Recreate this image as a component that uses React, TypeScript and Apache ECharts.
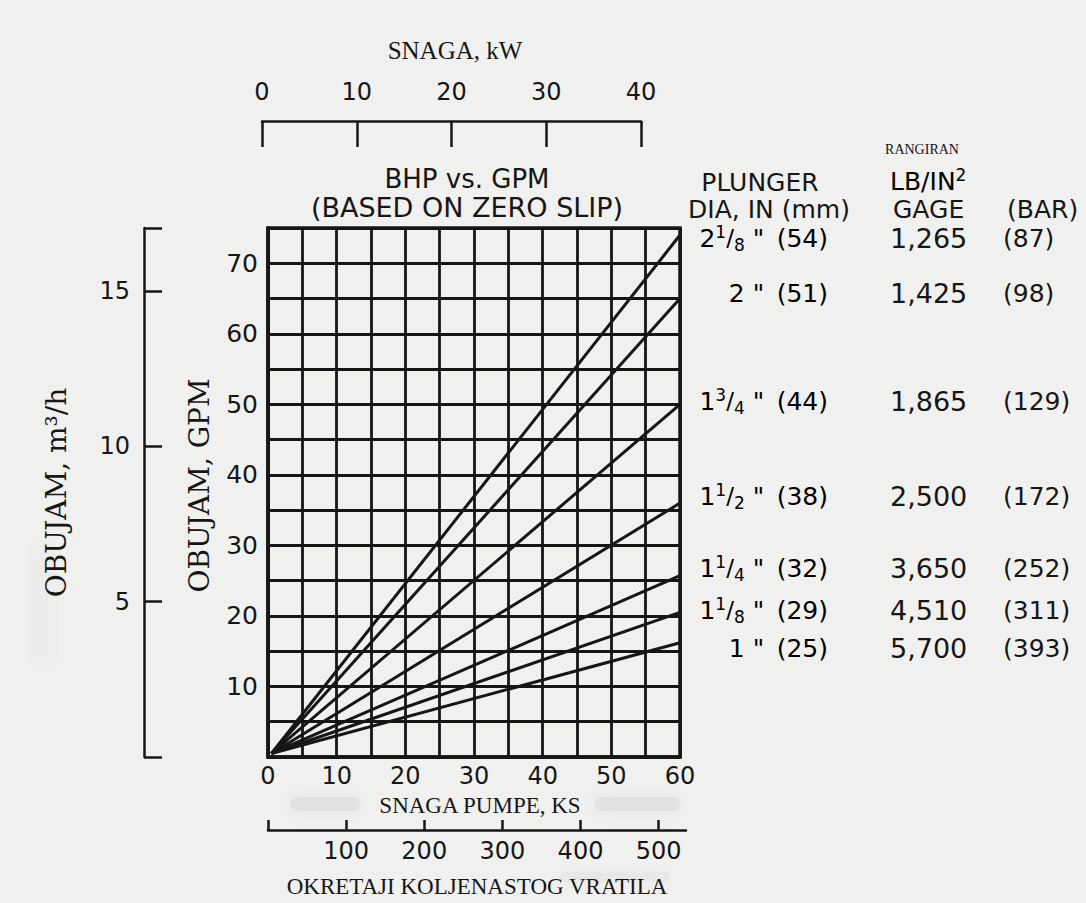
import React, { useEffect, useRef } from 'react';
import * as echarts from 'echarts';

// ---- data ----
const hpMin = 0;
const hpMax = 60;
const gpmMax = 75;
const kwTicks = [0, 10, 20, 30, 40];
const rpmTicks = [0, 100, 200, 300, 400, 500];
const rpmLabels = [100, 200, 300, 400, 500];
const rpmMax = 535;
const m3hTickValues = [0, 5, 10, 15];
const m3hLabels = [5, 10, 15];
const gpmToM3h = 0.2271;

const plungerWhole = ['2', '2', '1', '1', '1', '1', '1'];
const plungerNum = ['1', '', '3', '1', '1', '1', ''];
const plungerDen = ['8', '', '4', '2', '4', '8', ''];
const plungerMm = [54, 51, 44, 38, 32, 29, 25];
const ratedPsi = ['1,265', '1,425', '1,865', '2,500', '3,650', '4,510', '5,700'];
const ratedBar = ['(87)', '(98)', '(129)', '(172)', '(252)', '(311)', '(393)'];
// GPM reached at 60 BHP for each plunger (lines start near origin)
const lineStart = [0.5, 0.5];
const gpmAtMaxHp = [74, 65, 50, 36, 25.7, 20.5, 16.2];

// ---- layout (pixels) ----
const rowY = [238, 293, 401, 496, 568, 610, 648];
const INK = '#161616';
const SANS = 'DejaVu Sans';
const SERIF = 'Liberation Serif';
const VSERIF = 'DejaVu Serif';

export default function App() {
  const ref = useRef<HTMLDivElement>(null);
  useEffect(() => {
    document.body.style.margin = '0';
    const chart = echarts.init(ref.current!, undefined, { renderer: 'svg' });

    const series = gpmAtMaxHp.map((v, i) => ({
      type: 'line',
      name: plungerWhole[i] + (plungerNum[i] ? ' ' + plungerNum[i] + '/' + plungerDen[i] : '') + '"',
      xAxisIndex: 0,
      yAxisIndex: 0,
      data: [lineStart, [hpMax, v]],
      symbol: 'none',
      silent: true,
      lineStyle: { color: INK, width: 3 },
    }));

    const rich = {
      n: { fontFamily: SANS, fontSize: 25, color: INK, lineHeight: 30 },
      sup: { fontFamily: SANS, fontSize: 17, color: INK, verticalAlign: 'top', lineHeight: 14 },
      sl: { fontFamily: SANS, fontSize: 23, color: INK, lineHeight: 30 },
      sub: { fontFamily: SANS, fontSize: 17, color: INK, verticalAlign: 'bottom', lineHeight: 10 },
    };

    const tableTexts: any[] = [];
    plungerWhole.forEach((w, i) => {
      const frac = plungerNum[i]
        ? `{sup|${plungerNum[i]}}{sl|/}{sub|${plungerDen[i]}}`
        : '';
      tableTexts.push({
        type: 'text',
        x: 828,
        y: rowY[i],
        style: {
          text: `{n|${w}}${frac}{n| "\u2002(${plungerMm[i]})}`,
          rich,
          align: 'right',
          verticalAlign: 'middle',
        },
      });
      tableTexts.push({
        type: 'text',
        x: 890,
        y: rowY[i],
        style: { text: ratedPsi[i], fontFamily: SANS, fontSize: 27, fill: INK, align: 'left', verticalAlign: 'middle' },
      });
      tableTexts.push({
        type: 'text',
        x: 1003,
        y: rowY[i],
        style: { text: ratedBar[i], fontFamily: SANS, fontSize: 25, fill: INK, align: 'left', verticalAlign: 'middle' },
      });
    });

    const head = (text: string, x: number, y: number, size = 25, family = SANS, align = 'center') => ({
      type: 'text',
      x,
      y,
      style: { text, fontFamily: family, fontSize: size, fill: INK, align, verticalAlign: 'middle' },
    });

    const smudge = (x: number, y: number, w: number, h: number, op = 0.5) => ({
      type: 'rect',
      silent: true,
      shape: { x, y, width: w, height: h, r: h / 2 },
      style: { fill: '#d9d9d7', opacity: op, shadowBlur: 16, shadowColor: '#d9d9d7' },
    });

    const option: any = {
      animation: false,
      backgroundColor: '#f0f0ee',
      grid: [
        { left: 268, top: 228, width: 412, height: 529, show: true, borderColor: INK, borderWidth: 3.5, backgroundColor: 'transparent' },
        { left: 262, top: 120, width: 379, height: 1 },
        { left: 268, top: 829, width: 418, height: 1 },
      ],
      xAxis: [
        {
          gridIndex: 0,
          type: 'value',
          min: hpMin,
          max: hpMax,
          interval: 5,
          position: 'bottom',
          axisLine: { show: true, lineStyle: { color: INK, width: 3.5 } },
          axisTick: { show: false },
          splitLine: { show: true, lineStyle: { color: INK, width: 2.8 } },
          axisLabel: {
            formatter: (v: number) => (v % 10 === 0 ? String(v) : ''),
            fontFamily: SANS,
            fontSize: 24,
            color: INK,
            margin: 7,
            showMinLabel: true,
            showMaxLabel: true,
          },
          name: 'SNAGA PUMPE, KS',
          nameLocation: 'middle',
          nameGap: 37,
          nameTextStyle: { fontFamily: SERIF, fontSize: 23, color: INK, padding: [0, 0, 0, 12] },
        },
        {
          gridIndex: 1,
          type: 'value',
          min: kwTicks[0],
          max: kwTicks[kwTicks.length - 1],
          interval: 10,
          position: 'top',
          axisLine: { show: true, lineStyle: { color: INK, width: 2.5 } },
          axisTick: { show: true, inside: true, length: 26, lineStyle: { color: INK, width: 2.5 } },
          splitLine: { show: false },
          axisLabel: { fontFamily: SANS, fontSize: 24, color: INK, margin: 16, showMinLabel: true, showMaxLabel: true },
        },
        {
          gridIndex: 2,
          type: 'value',
          min: rpmTicks[0],
          max: rpmMax,
          interval: 100,
          position: 'bottom',
          axisLine: { show: true, lineStyle: { color: INK, width: 2.5 } },
          axisTick: { show: true, inside: true, length: 10, customValues: rpmTicks, lineStyle: { color: INK, width: 2.5 } },
          splitLine: { show: false },
          axisLabel: {
            customValues: rpmLabels,
            formatter: (v: number) => (rpmLabels.indexOf(v) >= 0 ? String(v) : ''),
            fontFamily: SANS,
            fontSize: 24,
            color: INK,
            margin: 9,
          },
          name: 'OKRETAJI KOLJENASTOG VRATILA',
          nameLocation: 'middle',
          nameGap: 45,
          nameTextStyle: { fontFamily: SERIF, fontSize: 23, color: INK },
        },
      ],
      yAxis: [
        {
          gridIndex: 0,
          type: 'value',
          min: 0,
          max: gpmMax,
          interval: 5,
          position: 'left',
          axisLine: { show: true, lineStyle: { color: INK, width: 3.5 } },
          axisTick: { show: false },
          splitLine: { show: true, lineStyle: { color: INK, width: 2.8 } },
          axisLabel: {
            formatter: (v: number) => (v % 10 === 0 && v > 0 && v < gpmMax ? String(v) : ''),
            fontFamily: SANS,
            fontSize: 25,
            color: INK,
            margin: 10,
          },
          name: 'OBUJAM, GPM',
          nameLocation: 'middle',
          nameGap: 55,
          nameTextStyle: { fontFamily: VSERIF, fontSize: 28, color: INK, padding: [0, 0, 0, 14] },
        },
        {
          gridIndex: 0,
          type: 'value',
          min: 0,
          max: gpmMax * gpmToM3h,
          position: 'left',
          offset: 124,
          axisLine: { show: true, lineStyle: { color: INK, width: 2.5 } },
          axisTick: {
            show: true,
            inside: true,
            length: 18,
            customValues: [...m3hTickValues, gpmMax * gpmToM3h],
            lineStyle: { color: INK, width: 2.5 },
          },
          splitLine: { show: false },
          axisLabel: {
            customValues: m3hLabels,
            formatter: (v: number) => (m3hLabels.indexOf(v) >= 0 ? String(v) : ''),
            fontFamily: SANS,
            fontSize: 24,
            color: INK,
            margin: 14,
          },
          name: 'OBUJAM, m³/h',
          nameLocation: 'middle',
          nameGap: 74,
          nameTextStyle: { fontFamily: VSERIF, fontSize: 28, color: INK },
        },
        { gridIndex: 1, type: 'value', show: false, min: 0, max: 1 },
        { gridIndex: 2, type: 'value', show: false, min: 0, max: 1 },
      ],
      series,
      graphic: [
        smudge(290, 797, 70, 14, 0.55),
        smudge(595, 797, 85, 14, 0.55),
        smudge(560, 872, 110, 10, 0.3),
        smudge(28, 540, 30, 130, 0.08),
        head('SNAGA, kW', 455, 50, 25, SERIF),
        head('BHP vs. GPM', 467, 179, 26),
        head('(BASED ON ZERO SLIP)', 467, 207, 27),
        head('RANGIRAN', 922, 149, 14, SERIF),
        head('PLUNGER', 760, 182, 25),
        head('DIA, IN (mm)', 769, 209, 25),
        {
          type: 'text',
          x: 890,
          y: 181,
          style: {
            text: '{n|LB/IN}{sup|2}',
            rich: {
              n: { fontFamily: SANS, fontSize: 25, color: INK, lineHeight: 30 },
              sup: { fontFamily: SANS, fontSize: 17, color: INK, verticalAlign: 'top', lineHeight: 17 },
            },
            align: 'left',
            verticalAlign: 'middle',
          },
        },
        head('GAGE', 893, 209, 25, SANS, 'left'),
        head('(BAR)', 1007, 209, 25, SANS, 'left'),
        ...tableTexts,
      ],
    };

    chart.setOption(option);
    return () => chart.dispose();
  }, []);

  return <div ref={ref} style={{ width: 1086, height: 903, background: '#f0f0ee' }} />;
}
